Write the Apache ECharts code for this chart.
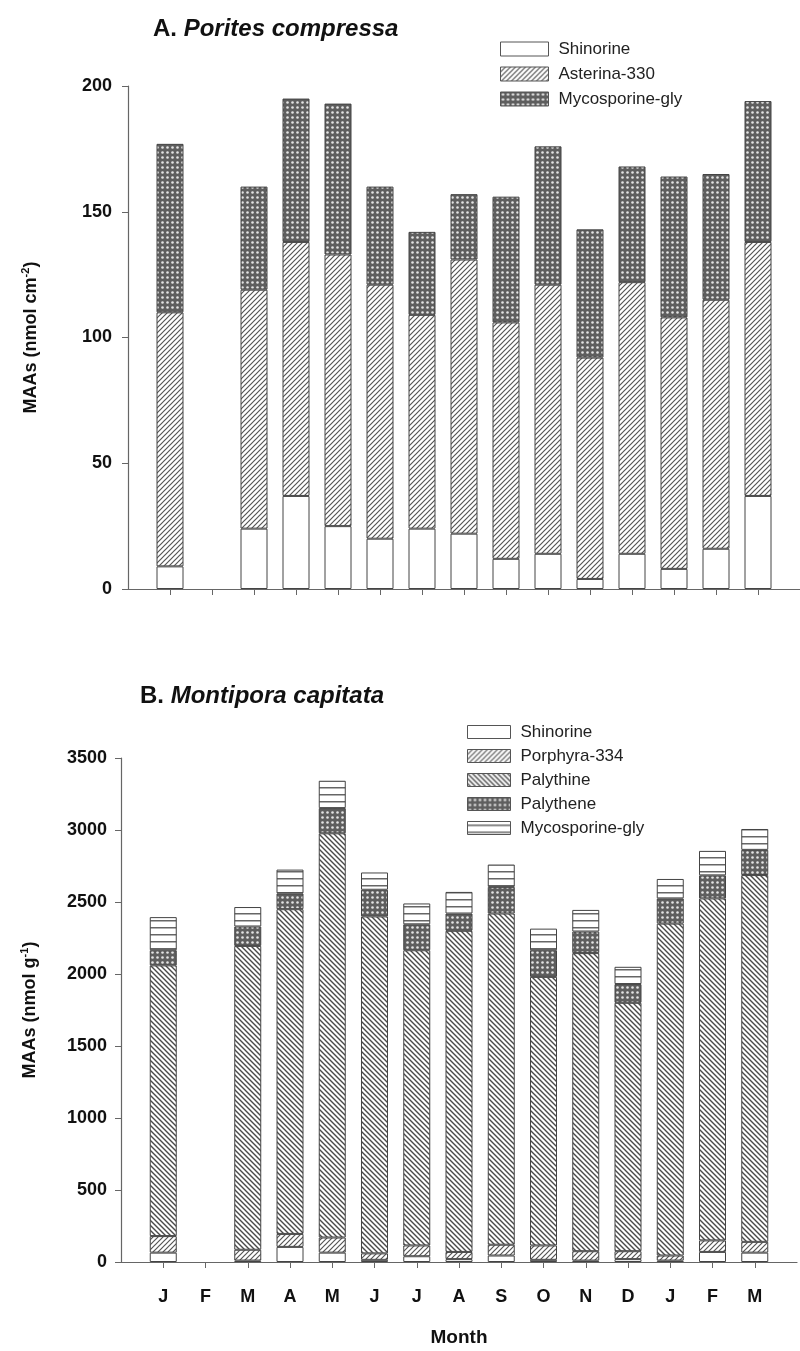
<!DOCTYPE html>
<html><head><meta charset="utf-8">
<script src="https://cdn.jsdelivr.net/npm/echarts@6/dist/echarts.min.js"></script>
<style>html,body{margin:0;padding:0;background:#fff}#c{width:800px;height:1351px}</style>
</head><body><div id="c"></div>
<script>
// ---- data ----
const months = ['J','F','M','A','M','J','J','A','S','O','N','D','J','F','M'];
const yTicksA = [0, 50, 100, 150, 200];
const yTicksB = [0, 500, 1000, 1500, 2000, 2500, 3000, 3500];

// A. Porites compressa (nmol cm-2)
const pcShinorine   = [9, null, 24, 37, 25, 20, 24, 22, 12, 14, 4, 14, 8, 16, 37];
const pcAsterina330 = [101, null, 95, 101, 108, 101, 85, 109, 94, 107, 88, 108, 100, 99, 101];
const pcMycoGly     = [67, null, 41, 57, 60, 39, 33, 26, 50, 55, 51, 46, 56, 50, 56];

// B. Montipora capitata (nmol g-1)
const mcShinorine   = [65, null, 10, 105, 65, 15, 40, 20, 45, 15, 10, 20, 10, 70, 65];
const mcPorphyra334 = [115, null, 75, 90, 105, 45, 75, 50, 75, 100, 65, 55, 35, 80, 75];
const mcPalythine   = [1880, null, 2110, 2255, 2807, 2340, 2050, 2230, 2300, 1865, 2070, 1725, 2305, 2375, 2547];
const mcPalythene   = [105, null, 135, 110, 175, 185, 180, 120, 185, 185, 150, 130, 175, 160, 175];
const mcMycoGly     = [230, null, 135, 165, 190, 120, 145, 150, 155, 150, 150, 120, 135, 170, 145];

// ---- patterns ----
function tile(w, h, draw) {
  const c = document.createElement('canvas'); c.width = w; c.height = h;
  const g = c.getContext('2d'); draw(g, w, h); return c;
}
const FF = "'Liberation Sans', Arial, sans-serif";
const fwd = tile(5, 5, (g) => {
  g.fillStyle = '#fff'; g.fillRect(0, 0, 5, 5);
  g.strokeStyle = '#555'; g.lineWidth = 1.2; g.beginPath();
  g.moveTo(-1, 1); g.lineTo(1, -1);
  g.moveTo(-1, 6); g.lineTo(6, -1);
  g.moveTo(4, 6); g.lineTo(6, 4);
  g.stroke();
});
const back = tile(5, 5, (g) => {
  g.fillStyle = '#fff'; g.fillRect(0, 0, 5, 5);
  g.strokeStyle = '#4a4a4a'; g.lineWidth = 1.4; g.beginPath();
  g.moveTo(-1, -1); g.lineTo(6, 6);
  g.moveTo(-1, 4); g.lineTo(1, 6);
  g.moveTo(4, -1); g.lineTo(6, 1);
  g.stroke();
});
const dots = tile(5, 5, (g) => {
  g.fillStyle = '#5e5e5e'; g.fillRect(0, 0, 5, 5);
  g.fillStyle = '#e4e4e4'; g.beginPath(); g.arc(2.5, 2.5, 1.3, 0, Math.PI * 2); g.fill();
});
const horiz = tile(7, 7, (g) => {
  g.fillStyle = '#fff'; g.fillRect(0, 0, 7, 7);
  g.fillStyle = '#666'; g.fillRect(0, 3, 7, 1.5);
});
const P = (c) => ({ image: c, repeat: 'repeat' });

const pad = (arr) => [null, ...arr, null];
const cats = ['', ...months, ''];

function bar(name, data, color, xi, stack) {
  return {
    name, type: 'bar', stack, xAxisIndex: xi, yAxisIndex: xi,
    data: pad(data), barWidth: 27,
    itemStyle: { color, borderColor: '#444', borderWidth: 1 },
    emphasis: { disabled: true }, animation: false
  };
}
const legItem = (name, color) => ({ name, icon: 'rect', itemStyle: { color, borderColor: '#555', borderWidth: 1 } });

const tickInt = (i) => i !== 0 && i !== cats.length - 1;
const axisStyle = { lineStyle: { color: '#666', width: 1.2 } };
const plain = (v) => String(v);

const chart = echarts.init(document.getElementById('c'), null, { renderer: 'canvas' });
chart.setOption({
  backgroundColor: '#fff',
  animation: false,
  title: [
    { text: '{a|A. }{b|Porites compressa}', left: 148, top: 12,
      textStyle: { rich: {
        a: { fontSize: 24, fontWeight: 'bold', fontFamily: FF, color: '#111' },
        b: { fontSize: 24, fontWeight: 'bold', fontStyle: 'italic', fontFamily: FF, color: '#111' } } } },
    { text: '{a|B. }{b|Montipora capitata}', left: 135, top: 679,
      textStyle: { rich: {
        a: { fontSize: 24, fontWeight: 'bold', fontFamily: FF, color: '#111' },
        b: { fontSize: 24, fontWeight: 'bold', fontStyle: 'italic', fontFamily: FF, color: '#111' } } } }
  ],
  legend: [
    { data: [legItem('Shinorine', '#fff'), legItem('Asterina-330', P(fwd)), legItem('Mycosporine-gly', P(dots))],
      orient: 'vertical', left: 495, top: 35, itemWidth: 48, itemHeight: 14, itemGap: 7,
      textStyle: { fontSize: 17, fontFamily: FF, color: '#222', lineHeight: 18, padding: [0, 0, 0, 5] },
      selectedMode: false },
    { data: [legItem('Shinorine', '#fff'), legItem('Porphyra-334', P(fwd)), legItem('Palythine', P(back)),
             legItem('Palythene', P(dots)), legItem('Mycosporine-gly', P(horiz))],
      orient: 'vertical', left: 462, top: 718, itemWidth: 43, itemHeight: 13, itemGap: 6,
      textStyle: { fontSize: 17, fontFamily: FF, color: '#222', lineHeight: 18, padding: [0, 0, 0, 5] },
      selectedMode: false }
  ],
  grid: [
    { left: 128, right: 0, top: 86, height: 503 },
    { left: 121, right: 3, top: 758, height: 504 }
  ],
  xAxis: [
    { type: 'category', gridIndex: 0, data: cats, boundaryGap: false,
      axisLine: axisStyle, axisTick: { length: 6, interval: tickInt, lineStyle: { color: '#666' } },
      axisLabel: { show: false } },
    { type: 'category', gridIndex: 1, data: cats, boundaryGap: false,
      axisLine: axisStyle, axisTick: { length: 6, interval: tickInt, lineStyle: { color: '#666' } },
      axisLabel: { interval: 0, margin: 26, fontSize: 18, fontWeight: 'bold', fontFamily: FF, color: '#111' },
      name: 'Month', nameLocation: 'middle', nameGap: 66,
      nameTextStyle: { fontSize: 19, fontWeight: 'bold', fontFamily: FF, color: '#111', verticalAlign: 'top' } }
  ],
  yAxis: [
    { type: 'value', gridIndex: 0, min: yTicksA[0], max: yTicksA[yTicksA.length - 1], interval: yTicksA[1] - yTicksA[0],
      axisLine: Object.assign({ show: true }, axisStyle), axisTick: { show: true, length: 6, lineStyle: { color: '#666' } },
      splitLine: { show: false },
      axisLabel: { margin: 16, fontSize: 18, fontWeight: 'bold', fontFamily: FF, color: '#111', formatter: plain },
      name: '{m|MAAs (nmol cm}{s|-2}{m|)}', nameLocation: 'middle', nameGap: 86,
      nameTextStyle: { rich: {
        m: { fontSize: 18, fontWeight: 'bold', fontFamily: FF, color: '#111' },
        s: { fontSize: 11, fontWeight: 'bold', fontFamily: FF, color: '#111', verticalAlign: 'top', lineHeight: 22 } } } },
    { type: 'value', gridIndex: 1, min: yTicksB[0], max: yTicksB[yTicksB.length - 1], interval: yTicksB[1] - yTicksB[0],
      axisLine: Object.assign({ show: true }, axisStyle), axisTick: { show: true, length: 6, lineStyle: { color: '#666' } },
      splitLine: { show: false },
      axisLabel: { margin: 14, fontSize: 18, fontWeight: 'bold', fontFamily: FF, color: '#111', formatter: plain },
      name: '{m|MAAs (nmol g}{s|-1}{m|)}', nameLocation: 'middle', nameGap: 80,
      nameTextStyle: { rich: {
        m: { fontSize: 18, fontWeight: 'bold', fontFamily: FF, color: '#111' },
        s: { fontSize: 11, fontWeight: 'bold', fontFamily: FF, color: '#111', verticalAlign: 'top', lineHeight: 22 } } } }
  ],
  series: [
    bar('Shinorine', pcShinorine, '#fff', 0, 'a'),
    bar('Asterina-330', pcAsterina330, P(fwd), 0, 'a'),
    bar('Mycosporine-gly', pcMycoGly, P(dots), 0, 'a'),
    bar('Shinorine', mcShinorine, '#fff', 1, 'b'),
    bar('Porphyra-334', mcPorphyra334, P(fwd), 1, 'b'),
    bar('Palythine', mcPalythine, P(back), 1, 'b'),
    bar('Palythene', mcPalythene, P(dots), 1, 'b'),
    bar('Mycosporine-gly', mcMycoGly, P(horiz), 1, 'b')
  ]
});
</script></body></html>
